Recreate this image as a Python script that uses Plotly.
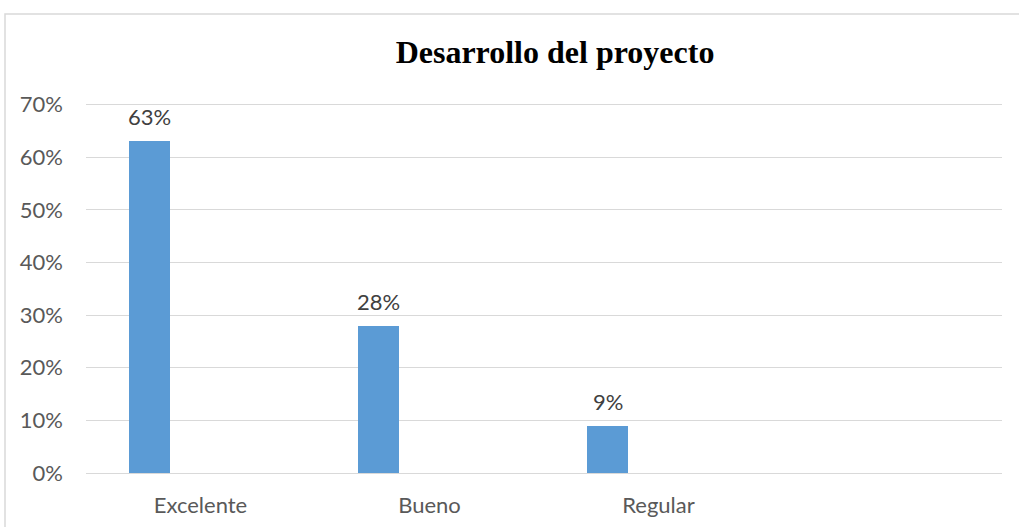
import plotly.graph_objects as go

categories = ["Excelente", "Bueno", "Regular"]
values = [0.63, 0.28, 0.09]
labels = ["63%", "28%", "9%"]
title_text = "Desarrollo del proyecto"

W, H = 1019, 527
ml, mr, mt, mb = 86, 17, 102, 54
pw = W - ml - mr
ph = H - mt - mb

bar_color = "#5B9BD5"
grid_color = "#D9D9D9"
font_family = "Lato, 'Open Sans', sans-serif"

fig = go.Figure()
fig.add_trace(go.Bar(
    x=categories, y=values,
    width=0.178, offset=-0.312,
    marker=dict(color=bar_color, line=dict(width=0)),
    hoverinfo="skip",
))

annotations = []
for c, v, t in zip(categories, values, labels):
    annotations.append(dict(
        x=c, y=v, xref="x", yref="y", text=t, showarrow=False,
        xshift=-51, yshift=9, yanchor="bottom", xanchor="center",
        font=dict(family=font_family, size=22, color="#404040"),
    ))

fig.update_layout(
    width=W, height=H,
    margin=dict(l=ml, r=mr, t=mt, b=mb, autoexpand=False),
    paper_bgcolor="white", plot_bgcolor="white",
    showlegend=False,
    title=dict(
        text="<b>" + title_text + "</b>",
        x=555 / W, xref="container", xanchor="center",
        y=1 - 52 / H, yref="container", yanchor="middle",
        font=dict(family="'Liberation Serif', 'Times New Roman', serif", size=32, color="black"),
    ),
    annotations=annotations,
    bargap=0,
    shapes=[dict(
        type="rect", xref="paper", yref="paper",
        x0=(5 - ml) / pw, x1=1.2, y0=-0.3, y1=(H - mb - 14) / ph,
        line=dict(color=grid_color, width=1.5), fillcolor="rgba(0,0,0,0)", layer="below",
    )],
)

fig.update_xaxes(
    type="category", range=[-0.5, 3.5], automargin=False,
    showgrid=False, showline=False, zeroline=False, ticks="",
    tickfont=dict(family=font_family, size=22, color="#595959"),
    ticklabelstandoff=17,
)
fig.update_yaxes(
    range=[0, 0.705], tickvals=[0, 0.1, 0.2, 0.3, 0.4, 0.5, 0.6, 0.7], tickformat=".0%",
    automargin=False,
    showgrid=True, gridcolor=grid_color, gridwidth=1.4,
    zeroline=True, zerolinecolor=grid_color, zerolinewidth=1.4,
    showline=False, ticks="",
    tickfont=dict(family=font_family, size=22, color="#595959"),
    ticklabelstandoff=22,
)

fig.write_html(
    "out.html",
    config={"displayModeBar": False},
    post_script="document.body.style.margin='0';document.body.style.overflow='hidden';",
)
